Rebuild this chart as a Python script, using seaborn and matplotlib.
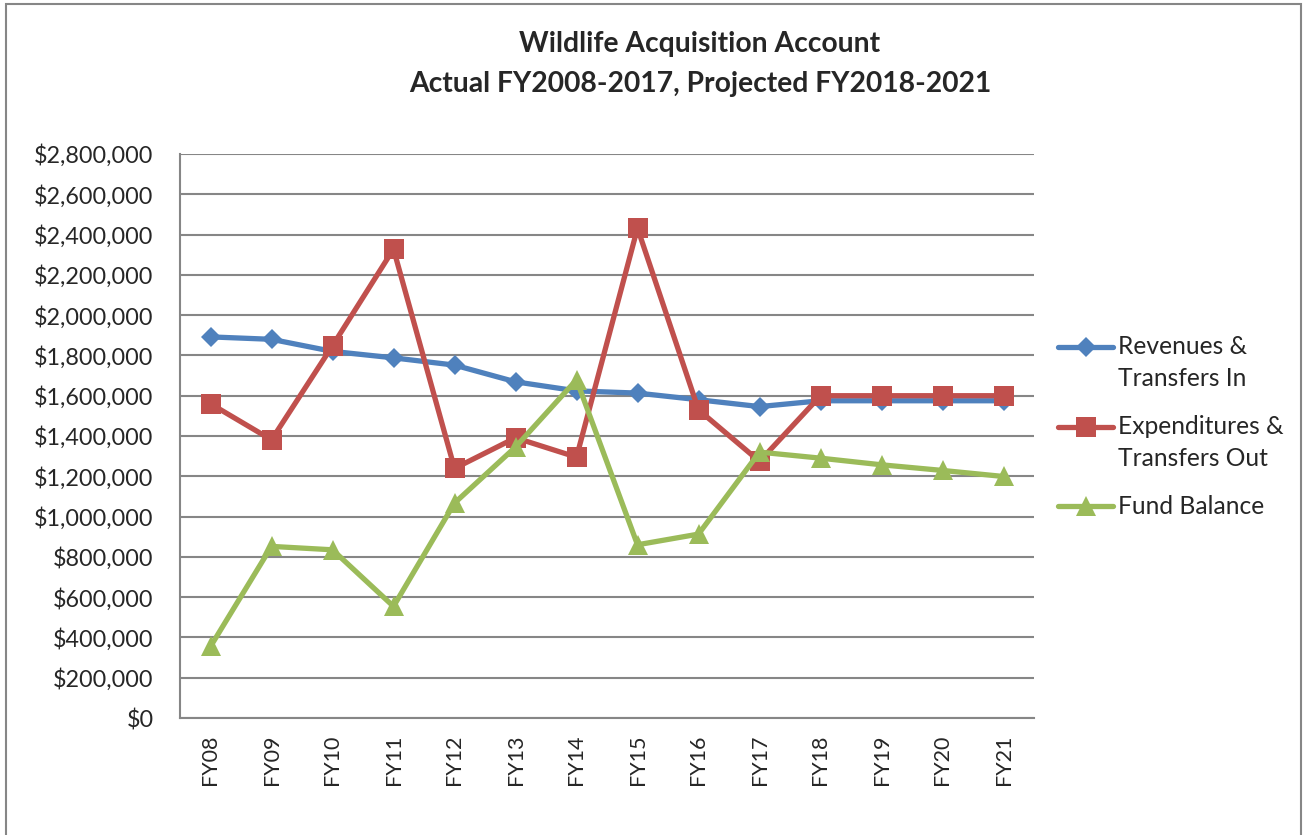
import matplotlib
matplotlib.use("Agg")
import matplotlib.pyplot as plt
import seaborn as sns
import pandas as pd
from matplotlib.ticker import FuncFormatter, MultipleLocator
from matplotlib.patches import Rectangle
from matplotlib.lines import Line2D

years = ["FY08", "FY09", "FY10", "FY11", "FY12", "FY13", "FY14",
         "FY15", "FY16", "FY17", "FY18", "FY19", "FY20", "FY21"]
revenues = [1892000, 1880000, 1820000, 1788000, 1752000, 1669000, 1624000,
            1613000, 1580000, 1546000, 1575000, 1575000, 1575000, 1575000]
expenditures = [1560000, 1381000, 1848000, 2328000, 1239000, 1391000, 1295000,
                2432000, 1530000, 1274000, 1600000, 1600000, 1600000, 1600000]
fund_balance = [355000, 852000, 835000, 554000, 1067000, 1345000, 1679000,
                860000, 913000, 1320000, 1290000, 1257000, 1229000, 1199000]
series_names = ["Revenues &\nTransfers In", "Expenditures &\nTransfers Out", "Fund Balance"]
title_lines = ["Wildlife Acquisition Account", "Actual FY2008-2017, Projected FY2018-2021"]

colors = ["#4F81BD", "#C0504D", "#9BBB59"]
markers = ["D", "s", "^"]
msizes = [10.5, 14, 14]

sns.set_style("white")
plt.rcParams["font.family"] = ["Lato", "DejaVu Sans"]

W, H = 1307, 835
fig = plt.figure(figsize=(W / 100, H / 100), dpi=100)
ax = fig.add_axes([180 / W, 1 - 718 / H, (1034 - 180) / W, (718 - 154) / H])

for name, vals, c, m, ms in zip(series_names, [revenues, expenditures, fund_balance], colors, markers, msizes):
    df = pd.DataFrame({"year": years, "value": vals})
    sns.lineplot(data=df, x="year", y="value", ax=ax, color=c, marker=m,
                 markersize=ms, markeredgewidth=0, linewidth=3.8, label=name,
                 sort=False, legend=False)

ax.set_xlim(-0.5, len(years) - 0.5)
ax.set_ylim(0, 2800000)
ax.yaxis.set_major_locator(MultipleLocator(200000))
ax.yaxis.set_major_formatter(FuncFormatter(lambda v, p: f"${v:,.0f}"))
ax.grid(axis="y", color="#868686", linewidth=1.5)
ax.grid(axis="x", visible=False)
ax.set_axisbelow(True)
ax.set_xlabel("")
ax.set_ylabel("")
for s in ["top", "right"]:
    ax.spines[s].set_visible(False)
for s in ["left", "bottom"]:
    ax.spines[s].set_color("#868686")
    ax.spines[s].set_linewidth(1.5)
ax.tick_params(axis="x", length=0, pad=12, labelsize=15.5, rotation=90)
ax.tick_params(axis="y", length=0, pad=19, labelsize=16.8)

# legend: handle aligned with first text line, as in the reference
leg_y = [347, 427, 506]
line_gap = 32
for name, c, m, ms, y in zip(series_names, colors, markers, msizes, leg_y):
    yf = 1 - y / H
    fig.add_artist(Line2D([1058 / W, 1113 / W], [yf, yf], transform=fig.transFigure,
                          color=c, linewidth=3.8, solid_capstyle="round"))
    fig.add_artist(Line2D([1086 / W], [yf], transform=fig.transFigure, color=c,
                          marker=m, markersize=ms, markeredgewidth=0, linestyle="none"))
    for k, part in enumerate(name.split("\n")):
        fig.text(1118 / W, 1 - (y + k * line_gap) / H, part, ha="left", va="center",
                 fontsize=17.7)

for line, ty in zip(title_lines, [44, 84]):
    fig.text(700 / W, 1 - ty / H, line, ha="center", va="center", fontsize=20.3,
             fontweight="bold")

fig.patches.append(Rectangle((6 / W, -0.01), (1301 - 6) / W, 1.01 - 4 / H,
                             transform=fig.transFigure, fill=False,
                             edgecolor="#868686", linewidth=1.5))

fig.savefig("out.png", dpi=100)
